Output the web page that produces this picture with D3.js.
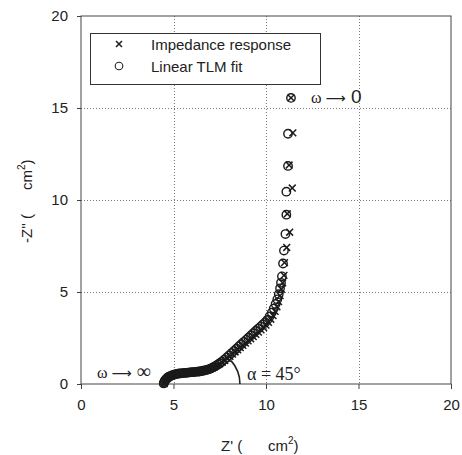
<!DOCTYPE html>
<html><head><meta charset="utf-8">
<script src="https://cdn.jsdelivr.net/npm/d3@7"></script>
<style>
body{margin:0;background:#fff;}
svg{display:block;}
text{font-family:"Liberation Sans",Arial,sans-serif;fill:#222;}
.serif{font-family:"Liberation Serif","DejaVu Serif",serif;}
</style></head>
<body>
<svg id="c" width="462" height="455"></svg>
<script>
// ---- data ----
const xTicks = [0, 5, 10, 15, 20];
const yTicks = [0, 5, 10, 15, 20];
const fitX = [4.47,4.49,4.52,4.56,4.61,4.67,4.74,4.82,4.91,5.0,5.1,5.2,5.3,5.4,5.5,5.6,5.7,5.8,5.9,6.0,6.1,6.2,6.3,6.4,6.5,6.6,6.7,6.8,6.9,7.0,7.1,7.2,7.3,7.4,7.5,7.62,7.75,7.88,8.01,8.14,8.27,8.4,8.53,8.66,8.79,8.92,9.05,9.18,9.31,9.44,9.57,9.7,9.83,9.96,10.08,10.2,10.31,10.42,10.52,10.61,10.69,10.76,10.81,10.86,10.92,10.97,11.05,11.1,11.1,11.19,11.19,11.35];
const fitY = [0.03,0.09,0.16,0.22,0.28,0.34,0.39,0.43,0.47,0.5,0.53,0.55,0.57,0.58,0.59,0.6,0.61,0.62,0.63,0.64,0.65,0.66,0.67,0.68,0.7,0.72,0.74,0.77,0.8,0.84,0.89,0.94,1.0,1.06,1.13,1.22,1.33,1.44,1.56,1.68,1.8,1.92,2.04,2.16,2.28,2.4,2.52,2.64,2.76,2.88,3.0,3.12,3.24,3.36,3.49,3.68,3.88,4.1,4.35,4.6,4.88,5.2,5.5,5.85,6.55,7.25,8.15,9.2,10.45,11.85,13.6,15.55];
const respX = [4.5,4.52,4.56,4.61,4.67,4.74,4.82,4.91,5.0,5.1,5.2,5.3,5.4,5.5,5.6,5.7,5.8,5.9,6.0,6.1,6.2,6.3,6.4,6.5,6.6,6.7,6.8,6.9,7.0,7.1,7.2,7.3,7.4,7.5,7.63,7.77,7.91,8.05,8.19,8.33,8.47,8.61,8.75,8.89,9.03,9.17,9.31,9.45,9.59,9.73,9.87,10.0,10.13,10.26,10.38,10.49,10.59,10.68,10.76,10.83,10.9,10.97,11.0,11.12,11.28,11.15,11.42,11.25,11.45,11.35];
const respY = [0.02,0.1,0.18,0.25,0.31,0.36,0.41,0.45,0.48,0.51,0.53,0.55,0.56,0.57,0.58,0.59,0.6,0.61,0.62,0.63,0.64,0.65,0.66,0.68,0.7,0.72,0.75,0.78,0.82,0.87,0.92,0.98,1.04,1.1,1.18,1.28,1.39,1.5,1.62,1.74,1.86,1.98,2.1,2.22,2.34,2.46,2.58,2.7,2.82,2.94,3.07,3.2,3.35,3.52,3.72,3.95,4.2,4.48,4.8,5.15,5.5,5.9,6.6,7.42,8.25,9.25,10.65,11.9,13.65,15.55];
const legendLabels = ["Impedance response", "Linear TLM fit"];

// ---- layout ----
const svg = d3.select("#c");
const L = 81, R = 451, T = 16, B = 384;
const x = d3.scaleLinear().domain([0, 20]).range([L, R]);
const y = d3.scaleLinear().domain([0, 20]).range([B, T]);

// gridlines
const grid = svg.append("g").attr("stroke", "#777").attr("stroke-width", 1).attr("stroke-dasharray", "1,2");
grid.selectAll(".gx").data(xTicks.slice(1, -1)).join("line")
  .attr("x1", d => Math.round(x(d)) + 0.5).attr("x2", d => Math.round(x(d)) + 0.5)
  .attr("y1", T).attr("y2", B);
grid.selectAll(".gy").data(yTicks.slice(1, -1)).join("line")
  .attr("y1", d => Math.round(y(d)) + 0.5).attr("y2", d => Math.round(y(d)) + 0.5)
  .attr("x1", L).attr("x2", R);

// axes
const xAxis = svg.append("g").attr("transform", `translate(0,${B})`)
  .call(d3.axisBottom(x).tickValues(xTicks).tickSize(5).tickPadding(10).tickSizeOuter(0));
const yAxis = svg.append("g").attr("transform", `translate(${L},0)`)
  .call(d3.axisLeft(y).tickValues(yTicks).tickSize(4).tickPadding(9).tickSizeOuter(0));
[xAxis, yAxis].forEach(a => {
  a.select(".domain").remove();
  a.selectAll("line").attr("stroke", "#444");
  a.selectAll("text").attr("font-size", 15).attr("fill", "#222")
    .attr("font-family", "'Liberation Sans',Arial,sans-serif");
});
// frame
svg.append("rect").attr("x", L).attr("y", T).attr("width", R - L).attr("height", B - T)
  .attr("fill", "none").attr("stroke", "#444").attr("stroke-width", 1);

// markers
const fitData = fitX.map((v, i) => [v, fitY[i]]);
const respData = respX.map((v, i) => [v, respY[i]]);
svg.append("g").selectAll("circle").data(fitData).join("circle")
  .attr("cx", d => x(d[0])).attr("cy", d => y(d[1])).attr("r", 4.2)
  .attr("fill", "none").attr("stroke", "#1a1a1a").attr("stroke-width", 1.4);
const cs = 3.4;
svg.append("g").selectAll("path").data(respData).join("path")
  .attr("d", d => { const cx = x(d[0]), cy = y(d[1]);
    return `M${cx-cs},${cy-cs}L${cx+cs},${cy+cs}M${cx-cs},${cy+cs}L${cx+cs},${cy-cs}`; })
  .attr("stroke", "#1a1a1a").attr("stroke-width", 1.5).attr("fill", "none");

// angle arc
const arcCx = x(6.7), arcR = 35;
svg.append("path")
  .attr("d", `M${arcCx + arcR},${B} A${arcR},${arcR} 0 0 0 ${arcCx + arcR*Math.cos(Math.PI/4.3)},${B - arcR*Math.sin(Math.PI/4.3)}`)
  .attr("fill", "none").attr("stroke", "#222").attr("stroke-width", 1.6);

// annotations
svg.append("text").attr("class", "serif").attr("x", 247).attr("y", 380).attr("font-size", 18)
  .text("α = 45°");
const tinf = svg.append("text").attr("class", "serif").attr("x", 97).attr("y", 378).attr("font-size", 16);
tinf.append("tspan").text("ω ");
tinf.append("tspan").attr("font-family", "'DejaVu Sans',sans-serif").attr("font-size", 14).text("⟶");
tinf.append("tspan").attr("font-size", 20).text(" ∞");
const t0 = svg.append("text").attr("x", 311).attr("y", 103);
t0.append("tspan").attr("class", "serif").attr("font-size", 16).text("ω ");
t0.append("tspan").attr("font-family", "'DejaVu Sans',sans-serif").attr("font-size", 14).text("⟶");
t0.append("tspan").attr("font-size", 19).text(" 0");

// legend
svg.append("rect").attr("x", 90.5).attr("y", 33.5).attr("width", 230).attr("height", 51)
  .attr("fill", "#fff").attr("stroke", "#333").attr("stroke-width", 1);
const lx = 119, ly1 = 44, ly2 = 66;
svg.append("path").attr("d", `M${lx-3},${ly1-3}L${lx+3},${ly1+3}M${lx-3},${ly1+3}L${lx+3},${ly1-3}`)
  .attr("stroke", "#222").attr("stroke-width", 1.6);
svg.append("circle").attr("cx", lx).attr("cy", ly2).attr("r", 3.8).attr("fill", "none")
  .attr("stroke", "#222").attr("stroke-width", 1.1);
svg.append("text").attr("x", 151).attr("y", 50).attr("font-size", 15).text(legendLabels[0]);
svg.append("text").attr("x", 151).attr("y", 72).attr("font-size", 15).text(legendLabels[1]);

// axis titles
const xl = svg.append("text").attr("y", 451).attr("font-size", 15);
xl.append("tspan").attr("x", 221).text("Z' (");
xl.append("tspan").attr("x", 268).text("cm");
xl.append("tspan").attr("dy", -7).attr("font-size", 10).text("2");
xl.append("tspan").attr("dy", 7).text(")");

const yl = svg.append("text").attr("transform", "translate(32,243) rotate(-90)").attr("font-size", 15);
yl.append("tspan").attr("x", 0).text("-Z'' (");
yl.append("tspan").attr("x", 53).text("cm");
yl.append("tspan").attr("dy", -7).attr("font-size", 10).text("2");
yl.append("tspan").attr("dy", 7).text(")");
</script>
</body></html>
